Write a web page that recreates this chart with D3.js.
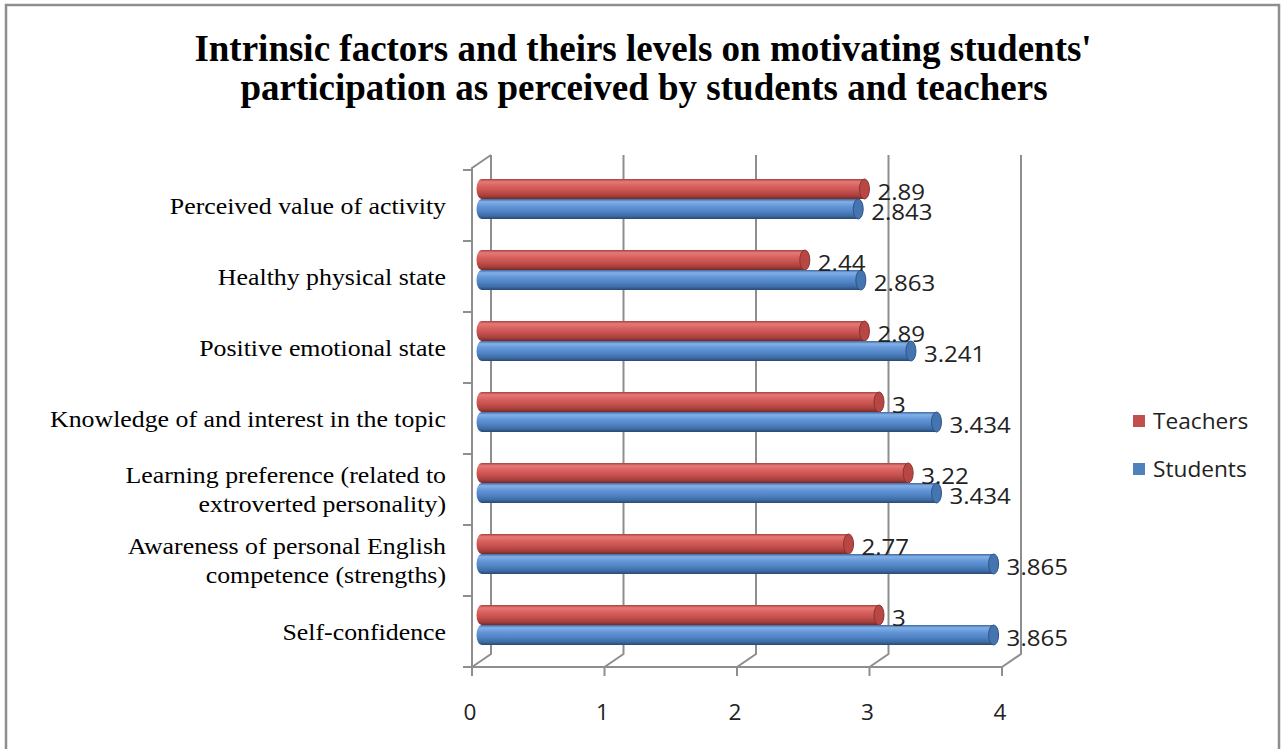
<!DOCTYPE html>
<html>
<head>
<meta charset="utf-8">
<script src="https://cdn.jsdelivr.net/npm/d3@7"></script>
<style>
  html, body { margin: 0; padding: 0; background: #fff; }
  svg { display: block; }
</style>
</head>
<body>
<svg id="chart" width="1282" height="749"></svg>
<script>
// Category labels, top to bottom (each entry holds the label's lines)
const categories = [
  ["Perceived value of activity"],
  ["Healthy physical state"],
  ["Positive emotional state"],
  ["Knowledge of and interest in the topic"],
  ["Learning preference (related to", "extroverted personality)"],
  ["Awareness of personal English", "competence (strengths)"],
  ["Self-confidence"]
];
const teachers = [2.89, 2.44, 2.89, 3, 3.22, 2.77, 3];
const students = [2.843, 2.863, 3.241, 3.434, 3.434, 3.865, 3.865];
const seriesNames = ["Teachers", "Students"];
const xTicks = [0, 1, 2, 3, 4];

(function draw() {
const svg = d3.select("#chart");

// Outer chart frame
svg.append("rect").attr("x", 6).attr("y", 5).attr("width", 1273).attr("height", 760)
  .attr("fill", "#fff").attr("stroke", "#8e8e8e").attr("stroke-width", 2.5);

// Title
const title = svg.append("text").attr("text-anchor", "middle")
  .attr("font-family", "'Liberation Serif', 'Times New Roman', serif")
  .attr("font-weight", "bold").attr("font-size", 37).attr("fill", "#000");
title.append("tspan").attr("x", 643).attr("y", 61).text("Intrinsic factors and theirs levels on motivating students'");
title.append("tspan").attr("x", 644).attr("y", 100).text("participation as perceived by students and teachers");

// 3D box geometry: front plane scales plus depth offset toward the back wall
const depth = { dx: 19, dy: -13 };
const x = d3.scaleLinear().domain([0, 4]).range([472, 1002]);
const keys = categories.map((c, i) => i);
const y = d3.scaleBand().domain(keys).range([170, 667]);
const sub = d3.scaleBand().domain(seriesNames).range([-20, 20]);

const gridColor = "#8e8e8e";
const grid = svg.append("g").attr("stroke", gridColor).attr("stroke-width", 2).attr("fill", "none");
const topY = 168, floorY = 667;

// Back-wall gridlines, with their run across the floor to the front edge
xTicks.forEach(t => {
  const xf = x(t), xb = x(t) + depth.dx;
  grid.append("path").attr("d",
    `M${xb},${topY + depth.dy}L${xb},${floorY + depth.dy}L${xf},${floorY}`);
  grid.append("line").attr("x1", xf).attr("x2", xf).attr("y1", floorY).attr("y2", floorY + 9);
});
// Floor front edge
grid.append("line").attr("x1", x(0)).attr("x2", x(4)).attr("y1", floorY).attr("y2", floorY);
// Left wall: front vertical axis and top edge
grid.append("path").attr("d",
  `M${x(0)},${floorY}L${x(0)},${topY}L${x(0) + depth.dx},${topY + depth.dy}`);
// Category ticks on the vertical axis
const yEdges = keys.map(k => y(k)).concat([floorY]);
yEdges.forEach(v => {
  grid.append("line").attr("x1", x(0) - 9).attr("x2", x(0)).attr("y1", v).attr("y2", v);
});

// X tick labels
const valueFont = "'Open Sans', sans-serif";
svg.append("g").selectAll("text").data(xTicks).join("text")
  .attr("transform", d => `translate(${x(d) - 2},720) scale(1.05,1)`)
  .attr("text-anchor", "middle")
  .attr("font-family", valueFont).attr("font-size", 21.5).attr("fill", "#222")
  .text(d => d);

// Category labels (slightly wide serif)
const catG = svg.append("g").attr("font-family", "'Liberation Serif', 'Times New Roman', serif")
  .attr("font-size", 23.5).attr("fill", "#000").attr("text-anchor", "end");
categories.forEach((lines, i) => {
  const cy = y(i) + y.bandwidth() / 2 + 1;
  const t = catG.append("text").attr("transform", `translate(446,${cy}) scale(1.1,1)`);
  lines.forEach((ln, j) => {
    const off = (j - (lines.length - 1) / 2) * 30;
    t.append("tspan").attr("x", 0).attr("y", off + 7).text(ln);
  });
});

// Cylinder gradients
const defs = svg.append("defs");
const palettes = {
  Teachers: { stops: ["#a8413e", "#e57a77", "#d9625f", "#c4504d", "#a53e3b", "#74292a"], cap: "#b84744", capEdge: "#8a3331", legend: "#c0504d" },
  Students: { stops: ["#3e6aa0", "#82b0e8", "#6597d8", "#4f83c3", "#3d6ba4", "#284870"], cap: "#4575b0", capEdge: "#2f5584", legend: "#4f81bd" }
};
const offsets = [0, 0.14, 0.35, 0.62, 0.85, 1];
seriesNames.forEach(s => {
  const g = defs.append("linearGradient").attr("id", "cyl-" + s)
    .attr("x1", 0).attr("y1", 0).attr("x2", 0).attr("y2", 1);
  palettes[s].stops.forEach((c, i) => g.append("stop").attr("offset", offsets[i]).attr("stop-color", c));
});

// Bars sit at mid depth of the box
const midX = v => x(v) + depth.dx / 2;
const midY = i => y(i) + y.bandwidth() / 2 + depth.dy / 2;
const barH = sub.bandwidth();
const capRx = 5;

const seriesData = { Teachers: teachers, Students: students };
const barsG = svg.append("g");
seriesNames.forEach(s => {
  seriesData[s].forEach((v, i) => {
    const yt = midY(i) + sub(s);
    const cy = yt + barH / 2;
    const x0 = midX(0), x1 = midX(v);
    const g = barsG.append("g");
    // body with rounded back end
    g.append("path").attr("fill", `url(#cyl-${s})`)
      .attr("d", `M${x1},${yt}L${x0},${yt}A${capRx},${barH / 2} 0 0 0 ${x0},${yt + barH}L${x1},${yt + barH}Z`);
    // visible end cap
    g.append("ellipse").attr("cx", x1).attr("cy", cy).attr("rx", capRx).attr("ry", barH / 2)
      .attr("fill", palettes[s].cap).attr("stroke", palettes[s].capEdge).attr("stroke-width", 1);
  });
});

// Value labels
const lblG = svg.append("g").attr("font-family", valueFont).attr("font-size", 22.5).attr("fill", "#222");
seriesNames.forEach(s => {
  seriesData[s].forEach((v, i) => {
    const cy = midY(i) + sub(s) + barH / 2;
    lblG.append("text")
      .attr("transform", `translate(${midX(v) + capRx + 8},${cy + 11}) scale(1.07,1)`)
      .text(v);
  });
});

// Legend
const leg = svg.append("g").attr("font-family", valueFont).attr("font-size", 22).attr("fill", "#222");
seriesNames.forEach((s, i) => {
  const ly = 421 + i * 48;
  leg.append("rect").attr("x", 1133).attr("y", ly - 6).attr("width", 12).attr("height", 12)
    .attr("fill", palettes[s].legend);
  leg.append("text").attr("transform", `translate(1153,${ly + 8}) scale(1.03,1)`).text(s);
});
})();
</script>
</body>
</html>
